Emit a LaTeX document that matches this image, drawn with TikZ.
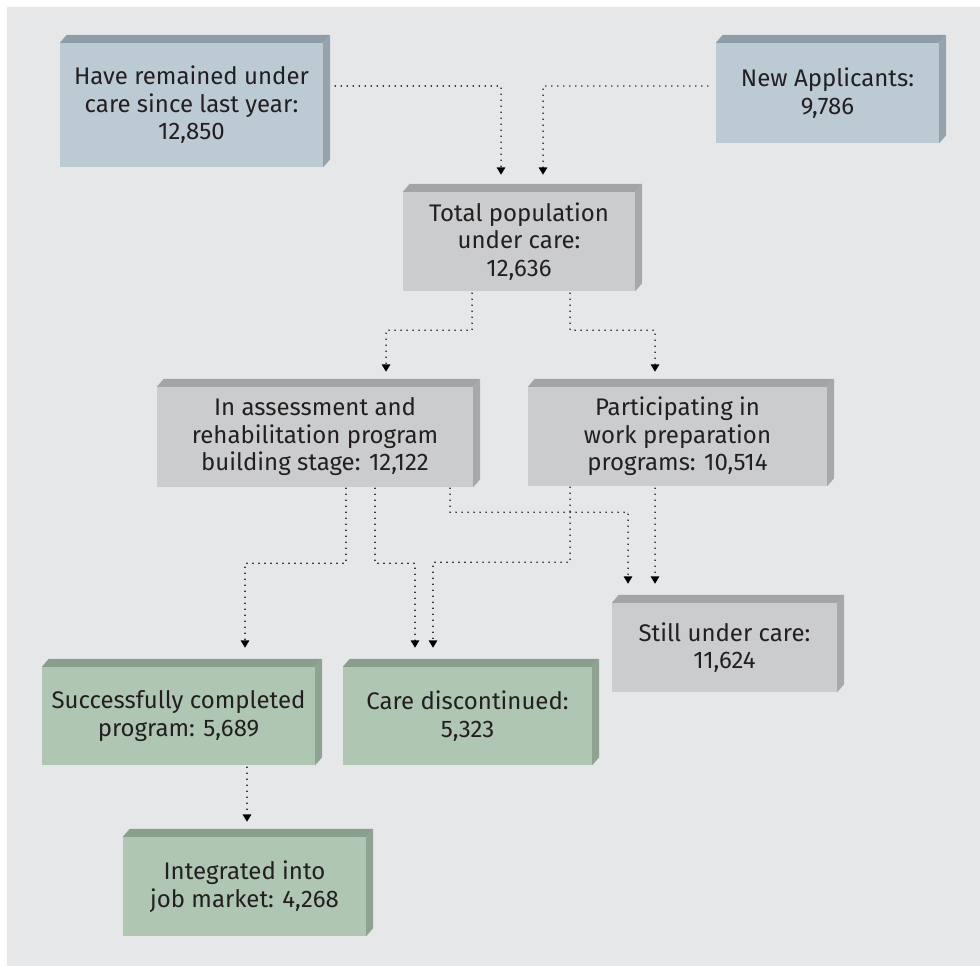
\documentclass[tikz,border=0pt]{standalone}
\usepackage{fontspec}
\setmainfont{Fira Sans}
\usetikzlibrary{arrows.meta}
\definecolor{bg}{HTML}{E6E7E9}
\definecolor{txt}{HTML}{231F20}
\definecolor{bfront}{HTML}{BCCAD3}
\definecolor{btop}{HTML}{8F9DA7}
\definecolor{bside}{HTML}{95A3AD}
\definecolor{gfront}{HTML}{CBCCCE}
\definecolor{gtop}{HTML}{A3A4A7}
\definecolor{gside}{HTML}{A7A8AB}
\definecolor{nfront}{HTML}{AFC6B3}
\definecolor{ntop}{HTML}{8A9E8E}
\definecolor{nside}{HTML}{8FA393}
\tikzset{
  boxbase/.style={inner sep=0pt, align=center, text=txt,
    font=\fontsize{24}{27.5}\selectfont},
  bluebox/.style={boxbase, fill=bfront},
  graybox/.style={boxbase, fill=gfront},
  greenbox/.style={boxbase, fill=nfront},
  conn/.style={line width=1.6pt, dash pattern=on 0pt off 6pt, line cap=round,
    -{Triangle[width=8.5pt,length=7.5pt]}, black}
}
\newcommand{\bevel}[3]{%
  \fill[#2] (#1.north west) -- ++(7,8) -- ([shift={(7,8)}]#1.north east) -- (#1.north east) -- cycle;
  \fill[#3] (#1.north east) -- ++(7,8) -- ([shift={(7,8)}]#1.south east) -- (#1.south east) -- cycle;
}
\begin{document}
\begin{tikzpicture}[x=1pt,y=1pt]
\useasboundingbox (0,0) rectangle (980,-966);
\fill[white] (0,0) rectangle (980,-966);
\fill[bg] (7,-7) rectangle (980,-966);

% boxes
\node[bluebox, minimum width=263pt, minimum height=124pt] (b1) at (191.5,-105) {Have remained under\\care since last year:\\12,850};
\bevel{b1}{btop}{bside}
\node[bluebox, minimum width=223pt, minimum height=100pt] (b2) at (827.5,-93) {New Applicants:\\9,786};
\bevel{b2}{btop}{bside}
\node[graybox, minimum width=232pt, minimum height=99pt] (b3) at (519,-241.5) {Total population\\under care:\\12,636};
\bevel{b3}{gtop}{gside}
\node[graybox, minimum width=316pt, minimum height=100pt] (b4) at (315,-437) {In assessment and\\rehabilitation program\\building stage: 12,122};
\bevel{b4}{gtop}{gside}
\node[graybox, minimum width=299pt, minimum height=99pt] (b5) at (677.5,-436.5) {Participating in\\work preparation\\programs: 10,514};
\bevel{b5}{gtop}{gside}
\node[graybox, minimum width=225pt, minimum height=89pt] (b6) at (724.5,-647.5) {Still under care:\\11,624};
\bevel{b6}{gtop}{gside}
\node[greenbox, minimum width=273pt, minimum height=98pt] (b7) at (178.5,-716) {Successfully completed\\program: 5,689};
\bevel{b7}{ntop}{nside}
\node[greenbox, minimum width=249pt, minimum height=98pt] (b8) at (467.5,-716) {Care discontinued:\\5,323};
\bevel{b8}{ntop}{nside}
\node[greenbox, minimum width=243pt, minimum height=99pt] (b9) at (244.5,-886.5) {Integrated into\\job market: 4,268};
\bevel{b9}{ntop}{nside}

% connectors
\draw[conn] ([xshift=12pt,yshift=19pt]b1.east) -| ([xshift=-18pt,yshift=17pt]b3.north);
\draw[conn] ([xshift=-8pt,yshift=7pt]b2.west) -| ([xshift=24pt,yshift=17pt]b3.north);
\draw[conn] ([xshift=-47pt,yshift=-2pt]b3.south) -- ++(0,-37) -| ([xshift=71pt,yshift=15pt]b4.north);
\draw[conn] ([xshift=51pt,yshift=-2pt]b3.south) -- ++(0,-37) -| ([xshift=-22.5pt,yshift=15pt]b5.north);
\draw[conn] ([xshift=31pt,yshift=-1pt]b4.south) -- ++(0,-75) -| ([xshift=66.5pt,yshift=19pt]b7.north);
\draw[conn] ([xshift=60pt,yshift=-1pt]b4.south) -- ++(0,-75) -| ([xshift=-52.5pt,yshift=19pt]b8.north);
\draw[conn] ([xshift=135pt,yshift=-1pt]b4.south) -- ++(0,-24) -| ([xshift=-96.5pt,yshift=19pt]b6.north);
\draw[conn] ([xshift=-107.5pt,yshift=-1pt]b5.south) -- ++(0,-75) -| ([xshift=-34.5pt,yshift=19pt]b8.north);
\draw[conn] ([xshift=-22.5pt,yshift=-2pt]b5.south) -- ([xshift=-69.5pt,yshift=19pt]b6.north);
\draw[conn] ([xshift=68.5pt,yshift=-2pt]b7.south) -- ([xshift=2.5pt,yshift=15pt]b9.north);
\end{tikzpicture}
\end{document}
